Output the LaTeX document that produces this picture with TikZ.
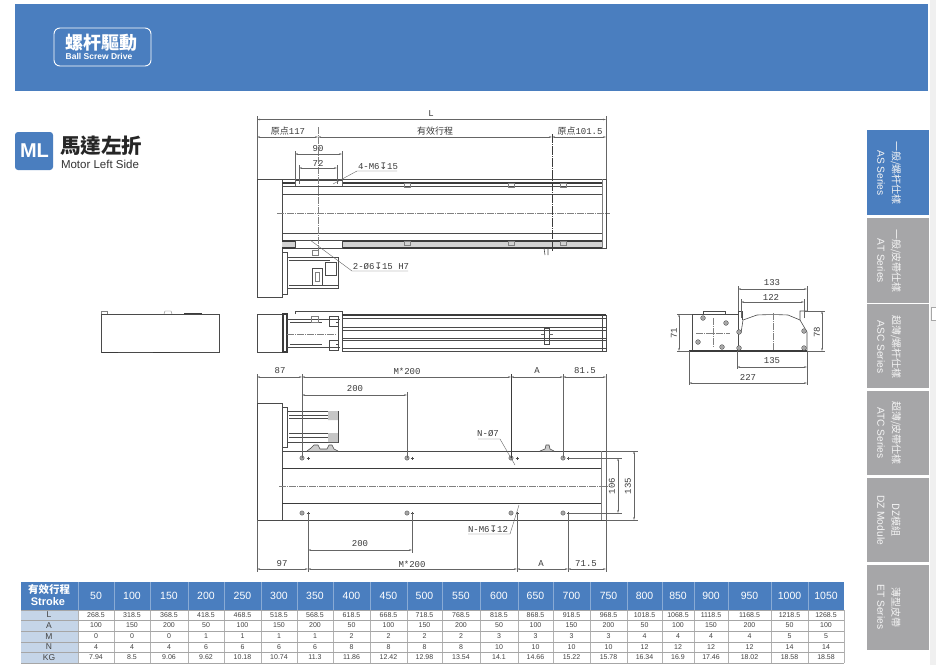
\documentclass[tikz,border=0pt]{standalone}
\usepackage{fontspec}
\setmainfont{Liberation Sans}
\newfontfamily\cjk{Noto Sans CJK TC}
\newfontfamily\drawfont{Liberation Mono}
\newfontfamily\symfont{DejaVu Sans}
\usepackage{tikz}
\usetikzlibrary{arrows.meta,calc}
\definecolor{bannerblue}{HTML}{4A7EBF}
\definecolor{tabgray}{HTML}{A6A6A8}
\definecolor{rowblue}{HTML}{C5D5E8}
\definecolor{lineink}{HTML}{4A4A4A}
\tikzset{
  part/.style={draw=lineink, line width=0.6pt},
  heavy/.style={draw=lineink!80!black, line width=1.1pt},
  thin part/.style={draw=lineink!70, line width=0.4pt},
  centre/.style={draw=gray, line width=0.4pt, dash pattern=on 7pt off 1pt on 1pt off 1pt},
  extline/.style={draw=lineink!85, line width=0.4pt},
  dimline/.style={draw=lineink!85, line width=0.4pt, {Stealth[length=3pt,width=1.6pt]}-{Stealth[length=3pt,width=1.6pt]}},
  dimtext/.style={font=\drawfont\fontsize{9}{9}\selectfont, text=lineink!80!black, inner sep=0pt},
  cjktext/.style={font=\cjk\fontsize{9}{9}\selectfont, text=lineink!80!black, inner sep=0pt},
  hole/.style={draw=lineink, fill=gray!70, line width=0.3pt},
  tabtext/.style={rotate=-90, text=white!92!gray, inner sep=0pt},
  headcell/.style={text=white, inner sep=0pt, font=\fontsize{10.5}{10.5}\selectfont},
  bodycell/.style={text=lineink!90!black, inner sep=0pt, font=\fontsize{7}{7}\selectfont},
}
\begin{document}
\begin{tikzpicture}[x=1pt, y=-1pt, >=Stealth]

  %% Background
  \useasboundingbox (0,0) rectangle (936,665);
  \fill[white] (0,0) rectangle (936,665);
  \fill[gray!12] (930,0) rectangle (936,665);
  \draw[gray!70, fill=white, line width=0.4pt] (936,307) -- (931,307) -- (931,320) -- (936,320);

  % Banner
  \fill[bannerblue] (15,4) rectangle (928,91);
  \draw[white, line width=0.9pt, rounded corners=6pt] (54,28) rectangle (151,66);
  \node[font=\cjk\bfseries\fontsize{18}{18}\selectfont, text=white, inner sep=0pt] (bannerzh) at (101,42.5) {螺杆驅動};
  \node[font=\bfseries\fontsize{8.5}{8.5}\selectfont, text=white, inner sep=0pt] (banneren) at (99,56) {Ball Screw Drive};

  % Title
  \fill[bannerblue, rounded corners=3pt] (15,132) rectangle (53,170);
  \node[font=\bfseries\fontsize{20}{20}\selectfont, text=white, inner sep=0pt] (mlbadge) at (34.5,151) {ML};
  \node[font=\cjk\bfseries\fontsize{20.5}{20.5}\selectfont, text=black!85, inner sep=0pt] (titlezh) at (101,146) {馬達左折};
  \node[font=\fontsize{11.5}{11.5}\selectfont, text=black!80, inner sep=0pt] (titleen) at (100,164) {Motor Left Side};

  % Series tabs
  \fill[bannerblue] (867,130) rectangle (929,215);
  \foreach \ytop/\ybot in {218/303, 304/388, 391/475, 478/562, 565/650}{
    \fill[tabgray] (867,\ytop) rectangle (929,\ybot);
  }
  \foreach \ymid/\zh/\en/\nm in {
      173/{一般/螺杆仕樣}/AS Series/as,
      261/{一般/皮帶仕樣}/AT Series/at,
      347/{超薄/螺杆仕樣}/ASC Series/asc,
      433/{超薄/皮帶仕樣}/ATC Series/atc,
      520/DZ模組/DZ Module/dz,
      607/薄型皮帶/ET Series/et}{
    \node[tabtext, font=\cjk\fontsize{10}{10}\selectfont] (tabzh\nm) at (896,\ymid) {\zh};
    \node[tabtext, font=\fontsize{10.2}{10.2}\selectfont] (taben\nm) at (881,\ymid) {\en};
  }

  % Top view
  \draw[part] (257,179) rectangle (282,297);
  \draw[part] (282,179) rectangle (606,248);
  \draw[thin part] (602,179) -- (602,248);
  \fill[gray!35] (282,241) rectangle (602,247);
  \draw[heavy] (282,183) -- (602,183);
  \draw[part] (282,186) -- (602,186);
  \draw[part] (282,194) -- (602,194);
  \draw[part] (282,233) -- (602,233);
  \draw[heavy] (282,241) -- (602,241);
  \draw[heavy] (282,248) -- (602,248);
  \draw[centre] (277,213) -- (610,213);
  \draw[part, fill=white] (295,180) -- (295,186) -- (342,186) -- (342,180) -- cycle;
  \draw[part, fill=white] (295,240) rectangle (342,248);
  \foreach \xb in {407,511,563}{
    \draw[thin part] (\xb-3,183) rectangle (\xb+3,187);
    \draw[thin part] (\xb-3,241) rectangle (\xb+3,245);
  }
  \draw[part] (548,248) -- (548,255) (544,248) -- (545,255);

  % Top view motor
  \draw[part] (282,252) rectangle (287,294);
  \draw[part] (287,257) -- (338,257) -- (338,288) -- (287,288);
  \draw[part] (289,260) -- (330,260) (289,285) -- (338,285);
  \draw[part] (312,268) rectangle (322,285);
  \draw[thin part] (315,272) rectangle (319,281);
  \draw[part] (325,262) rectangle (336,275);
  \draw[thin part] (312,250) rectangle (318,255);

  % Top view dimensions
  \coordinate (topleft) at (257,179);
  \coordinate (topright) at (606,179);
  \coordinate (axisa) at (318,252);
  \coordinate (axisb) at (552,252);
  \draw[extline] (topleft) -- (257,116);
  \draw[extline] (topright) -- (606,116);
  \draw[dimline] (257,119.5) -- (606,119.5);
  \node[dimtext] (dimL) at (431,114) {L};
  \draw[dimline] (257,137) -- (318,137);
  \draw[dimline] (318,137) -- (552,137);
  \draw[dimline] (552,137) -- (606,137);
  \node[cjktext] (origin) at (288,131) {原点{\drawfont 117}};
  \node[cjktext] (stroke) at (435,131) {有效行程};
  \node[cjktext] (originb) at (580,131) {原点{\drawfont 101.5}};
  \draw[centre] (318,127) -- (axisa);
  \draw[heavy, line width=0.7pt, dash pattern=on 9pt off 1pt on 1pt off 1pt] (552,134) -- (axisb);
  \draw[extline] (295,151) -- (295,186) (342,151) -- (342,186);
  \draw[extline] (299,165) -- (299,184) (337,165) -- (337,184);
  \draw[dimline] (295,154) -- (342,154);
  \draw[dimline] (299,168) -- (337,168);
  \node[dimtext] (dimninety) at (318,149) {90};
  \node[dimtext] (dimseventytwo) at (318,163) {72};
  \draw[extline] (333,184) -- (357,171) -- (397,171);
  \node[dimtext] (tapa) at (378,166) {4-M6{\symfont ↧}15};
  \draw[extline] (310,240) -- (352,271) -- (408,271);
  \node[dimtext] (tapb) at (381,266) {2-Ø6{\symfont ↧}15 H7};

  % Left view
  \draw[part] (101,314) rectangle (219,352);
  \draw[thin part] (101,314) -- (101,311) -- (107,311) -- (107,314);
  \draw[thin part] (164,314) -- (165,311) -- (171,311) -- (172,314);
  \draw[heavy, line width=0.8pt] (184,313.5) -- (202,313.5);
  \draw[heavy, line width=0.8pt] (102,352) -- (118,352) (153,352) -- (170,352);

  % Middle view
  \draw[part] (257,314) rectangle (283,352);
  \draw[heavy] (283,314) rectangle (287,352);
  \draw[part] (295,314) -- (295,311) -- (342,311) -- (342,352);
  \draw[heavy] (342,315) -- (606,315);
  \foreach \yl in {318.6,327,330,338,340.5,348,351.5}{
    \draw[part] (342,\yl) -- (606,\yl);
  }
  \draw[part] (606,315) -- (606,351.5);
  \draw[part] (602,315) -- (602,351.5);
  \draw[part] (287,319) -- (340,319) (287,347) -- (340,347);
  \draw[part] (290,322) -- (322,322) (290,344) -- (322,344);
  \draw[centre] (287,334) -- (336,334);
  \draw[part] (336,322) -- (338,322) -- (338,344) -- (336,344);
  \draw[part] (329,316) rectangle (338,326);
  \draw[part] (329,340) rectangle (338,350);
  \draw[thin part] (311,316) rectangle (318,322);
  \draw[part] (544,328) rectangle (549,344);
  \draw[extline] (541,334.5) -- (544,334.5) (549,334.5) -- (553,334.5);

  % Bottom view
  \draw[part] (257,403) rectangle (282,520);
  \draw[part] (282,451) rectangle (606,520);
  \draw[thin part] (601,451) -- (601,520);
  \draw[heavy, line width=0.8pt] (282,468) -- (601,468);
  \draw[heavy, line width=0.8pt] (282,503) -- (601,503);
  \draw[centre] (279,486) -- (610,486);
  \draw[part] (282,407) rectangle (287,447);
  \draw[part] (287,411) -- (338,411) -- (338,442) -- (287,442);
  \foreach \yr in {415,418,433,437}{
    \draw[part] (289,\yr) -- (331,\yr);
  }
  \fill[gray!45] (328,411) rectangle (338,420) (328,433) rectangle (338,442);
  \draw[part] (338,411) -- (338,442);
  \draw[part, fill=gray!40] (307,451) -- (311,448) -- (314,445) -- (318,445) -- (320,449) -- (327,449) -- (329,445) -- (332,445) -- (334,449) -- (338,451);
  \draw[part, fill=gray!40] (540,451) -- (545,449) -- (546,445) -- (549,445) -- (550,449) -- (554,451);

  % Bottom view holes
  \foreach \xh/\xc in {302/308,407/412,511/517,563/568}{
    \draw[hole] (\xh,458) circle (2.2);
    \draw[hole] (\xh,513) circle (2.2);
    \draw[part, line width=0.5pt] (\xc-1.5,458) -- (\xc+1.5,458) (\xc,456.5) -- (\xc,459.5);
    \draw[part, line width=0.5pt] (\xc-1.5,513) -- (\xc+1.5,513) (\xc,511.5) -- (\xc,514.5);
  }

  % Bottom view dimensions
  \coordinate (holea) at (302,458);
  \coordinate (holeb) at (407,458);
  \coordinate (holec) at (511,458);
  \coordinate (holed) at (563,458);
  \draw[extline] (257,374) -- (257,403);
  \draw[extline] (606,374) -- (606,572);
  \draw[extline] (257,520) -- (257,572);
  \draw[extline, line width=0.6pt] (holea) -- (302,374);
  \draw[extline] (holeb) -- (407,392);
  \draw[heavy, line width=0.8pt] (holec) -- (511,374);
  \draw[extline] (holed) -- (563,374);
  \draw[dimline] (257,377) -- (302,377);
  \draw[dimline] (302,377) -- (511,377);
  \draw[dimline] (511,377) -- (563,377);
  \draw[dimline] (563,377) -- (606,377);
  \draw[dimline] (302,395) -- (407,395);
  \node[dimtext] (dimeightyseven) at (280,371) {87};
  \node[dimtext] (dimspan) at (407,371) {M*200};
  \node[dimtext] (dimA) at (537,371) {A};
  \node[dimtext] (dimeightyone) at (585,371) {81.5};
  \node[dimtext] (dimtwohundred) at (355,389) {200};

  \coordinate (holee) at (308,513);
  \coordinate (holef) at (412,513);
  \coordinate (holeg) at (517,513);
  \coordinate (holeh) at (568,513);
  \draw[extline, line width=0.6pt] (holee) -- (308,572);
  \draw[extline] (holef) -- (412,553);
  \draw[extline, line width=0.6pt] (holeg) -- (517,572);
  \draw[extline, line width=0.6pt] (holeh) -- (568,572);
  \draw[dimline] (308,550) -- (412,550);
  \draw[dimline] (257,569) -- (308,569);
  \draw[dimline] (308,569) -- (517,569);
  \draw[dimline] (517,569) -- (568,569);
  \draw[dimline] (568,569) -- (606,569);
  \node[dimtext] (dimtwohundredb) at (360,544) {200};
  \node[dimtext] (dimninetyseven) at (282,564) {97};
  \node[dimtext] (dimspanb) at (412,564) {M*200};
  \node[dimtext] (dimAb) at (541,564) {A};
  \node[dimtext] (dimseventyone) at (586,564) {71.5};

  \draw[extline] (478,439) -- (500,439) -- (515,465);
  \node[dimtext] (holelabel) at (488,434) {N-Ø7};
  \draw[extline] (468,534) -- (510,534) -- (519,505);
  \node[dimtext] (taplabel) at (488,529) {N-M6{\symfont ↧}12};

  \draw[extline] (568,458) -- (622,458) (568,513) -- (622,513);
  \draw[extline] (606,451) -- (638,451) (606,520) -- (638,520);
  \draw[dimline] (618,458) -- (618,513);
  \draw[dimline] (634,451) -- (634,520);
  \node[dimtext, rotate=90] (dimsix) at (612,486) {106};
  \node[dimtext, rotate=90] (dimfive) at (628,486) {135};

  % End view
  \draw[part] (692,314) rectangle (738,351);
  \draw[part] (703,314) -- (703,311) -- (725,311) -- (725,314);
  \draw[heavy] (689,351) -- (807,351);
  \draw[part] (738,311) -- (742,311) -- (742,320);
  \draw[part] (807,311) -- (800,311) -- (800,320) -- (807,332) -- (807,351);
  \draw[part] (738,311) -- (738,351);
  \draw[part] (741,333) -- (743,320) -- (757,315) .. controls (767,314.5) and (778,314.5) .. (788,315) -- (800,320);
  \draw[centre] (773,313) -- (773,351);
  \draw[centre] (696,333) -- (730,333);
  \draw[centre] (713,318) -- (713,348);
  \foreach \xe/\ye in {739/332, 739/348, 804/331, 804/348, 703/318, 726/323, 698/342, 722/347}{
    \draw[hole] (\xe,\ye) circle (2.4);
  }
  \coordinate (endleft) at (689,351);
  \coordinate (endright) at (807,351);
  \draw[extline] (738,311) -- (738,286) (807,311) -- (807,286);
  \draw[extline] (741,318) -- (741,299) (804,318) -- (804,299);
  \draw[dimline] (738,289) -- (807,289);
  \draw[dimline] (741,302) -- (804,302);
  \node[dimtext] (dimoneB) at (772,283) {133};
  \node[dimtext] (dimoneC) at (771,297) {122};
  \draw[extline] (endleft) -- (689,385) (endright) -- (807,385);
  \draw[extline] (737,351) -- (737,369);
  \draw[dimline] (737,367) -- (807,367);
  \draw[dimline] (689,383) -- (807,383);
  \node[dimtext] (dimoneD) at (772,361) {135};
  \node[dimtext] (dimtwo) at (748,377) {227};
  \draw[extline] (692,314) -- (677,314) (689,351) -- (677,351);
  \draw[dimline] (679,314) -- (679,351);
  \node[dimtext, rotate=90] (dimseven) at (674,333) {71};
  \draw[extline] (805,311) -- (825,311) (807,351) -- (825,351);
  \draw[dimline] (822,311) -- (822,351);
  \node[dimtext, rotate=90] (dimeight) at (817,332) {78};

  % Table head
  \fill[bannerblue] (21,582) rectangle (844,610);
  \node[font=\cjk\bfseries\fontsize{10.5}{10.5}\selectfont, text=white, inner sep=0pt] (strokezh) at (49,590) {有效行程};
  \node[font=\bfseries\fontsize{11}{11}\selectfont, text=white, inner sep=0pt] (strokeen) at (48,602) {Stroke};
  \fill[rowblue] (21,610) rectangle (78,663);

  % Table columns
  \foreach \xa/\xb/\sv/\lv/\av/\mv/\nv/\kv in {
      78/114/50/268.5/100/0/4/7.94,
      114/150/100/318.5/150/0/4/8.5,
      150/188/150/368.5/200/0/4/9.06,
      188/224/200/418.5/50/1/6/9.62,
      224/261/250/468.5/100/1/6/10.18,
      261/297/300/518.5/150/1/6/10.74,
      297/333/350/568.5/200/1/6/11.3,
      333/370/400/618.5/50/2/8/11.86,
      370/407/450/668.5/100/2/8/12.42,
      407/442/500/718.5/150/2/8/12.98,
      442/480/550/768.5/200/2/8/13.54,
      480/518/600/818.5/50/3/10/14.1,
      518/553/650/868.5/100/3/10/14.66,
      553/590/700/918.5/150/3/10/15.22,
      590/627/750/968.5/200/3/10/15.78,
      627/662/800/1018.5/50/4/12/16.34,
      662/694/850/1068.5/100/4/12/16.9,
      694/728/900/1118.5/150/4/12/17.46,
      728/771/950/1168.5/200/4/12/18.02,
      771/808/1000/1218.5/50/5/14/18.58,
      808/844/1050/1268.5/100/5/14/18.58}{
    \draw[white!35!bannerblue, line width=0.3pt] (\xa,582) -- (\xa,610);
    \draw[gray!60, line width=0.3pt] (\xa,610) -- (\xa,663);
    \node[headcell] (head\sv) at ({(\xa+\xb)/2},596) {\sv};
    \node[bodycell] (rowl\sv) at ({(\xa+\xb)/2},615) {\lv};
    \node[bodycell] (rowa\sv) at ({(\xa+\xb)/2},625.5) {\av};
    \node[bodycell] (rowm\sv) at ({(\xa+\xb)/2},636.5) {\mv};
    \node[bodycell] (rown\sv) at ({(\xa+\xb)/2},647) {\nv};
    \node[bodycell] (rowk\sv) at ({(\xa+\xb)/2},657.5) {\kv};
  }
  \foreach \yrow in {610,620,631,642,652,663}{
    \draw[gray!70, line width=0.4pt] (21,\yrow) -- (844,\yrow);
  }
  \draw[gray!60, line width=0.3pt] (844,610) -- (844,663);
  \foreach \ycell/\rowname in {615/L,625.5/A,636.5/M,647/N,657.5/KG}{
    \node[font=\fontsize{8.5}{8.5}\selectfont, text=lineink!90!black, inner sep=0pt] (name\rowname) at (49,\ycell) {\rowname};
  }

\end{tikzpicture}
\end{document}
